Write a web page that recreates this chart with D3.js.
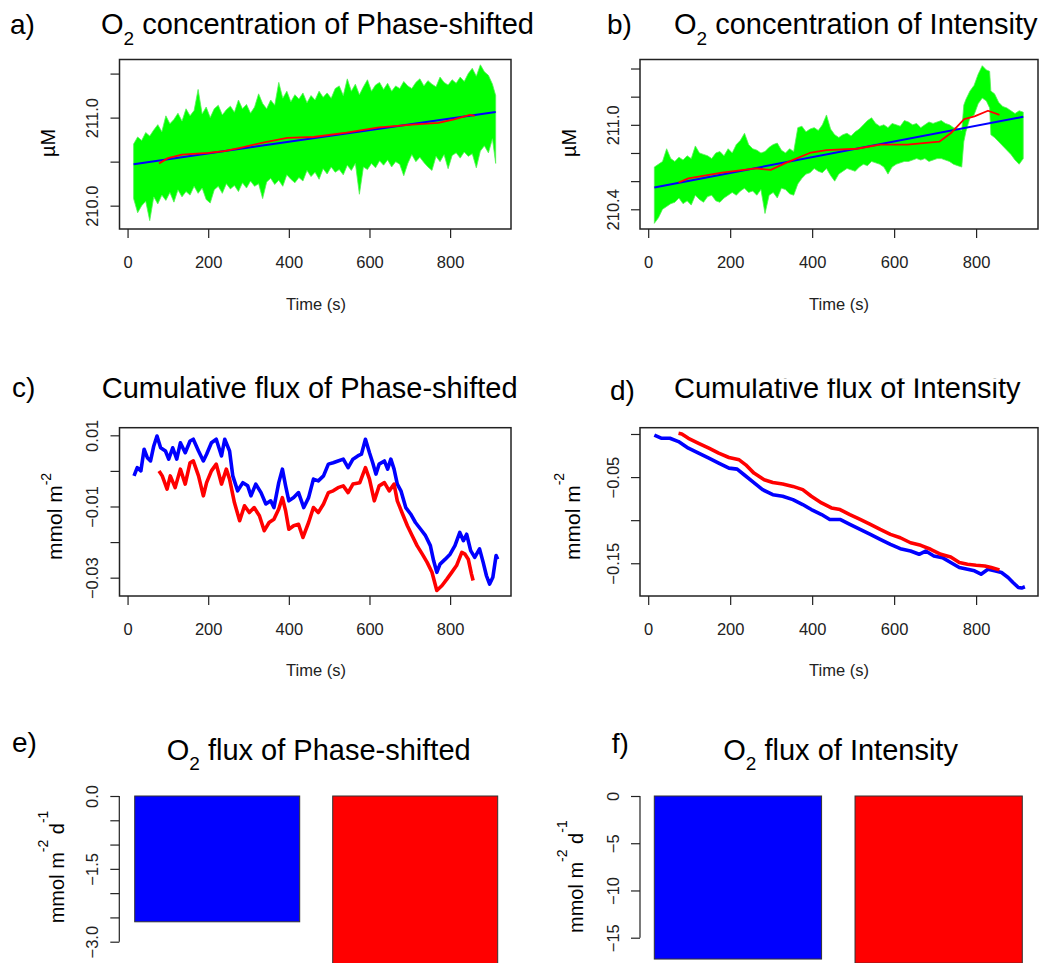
<!DOCTYPE html>
<html>
<head>
<meta charset="utf-8">
<script src="https://cdnjs.cloudflare.com/ajax/libs/d3/7.8.5/d3.min.js"></script>
<style>
  body { margin: 0; background: #fff; }
  text { white-space: pre; }
</style>
</head>
<body>
<div id="chart-area"></div>
<script>
// ---- data ----
var timeTicks = [0, 200, 400, 600, 800];

// a) O2 concentration, phase-shifted: [time, upper, lower] of the raw (green) trace
var aBand = [
  [15,210.70,210.08],[25,210.78,209.92],[35,210.74,210.00],[45,210.83,210.05],[55,210.79,209.83],
  [65,210.86,210.10],[75,210.92,210.02],[85,210.84,210.12],[95,211.02,210.06],[105,210.93,210.15],
  [115,210.98,210.04],[125,211.05,210.18],[135,210.96,210.10],[145,211.10,210.16],[155,211.02,210.12],
  [165,211.08,210.22],[175,211.32,210.14],[185,211.04,210.20],[195,211.12,210.07],[205,211.00,210.03],
  [215,211.10,210.18],[225,211.14,210.22],[235,211.03,210.14],[245,211.09,210.25],[255,211.13,210.19],
  [265,211.06,210.23],[275,211.20,210.16],[285,211.10,210.26],[295,211.15,210.20],[305,211.05,210.28],
  [315,211.12,210.22],[325,211.27,210.25],[335,211.16,210.08],[345,211.10,210.27],[355,211.20,210.31],
  [365,211.14,210.24],[375,211.40,210.29],[385,211.22,210.22],[395,211.30,210.35],[405,211.18,210.30],
  [415,211.26,210.26],[425,211.21,210.32],[435,211.28,210.28],[445,211.17,210.40],[455,211.25,210.33],
  [465,211.20,210.38],[475,211.30,210.30],[485,211.23,210.42],[495,211.28,210.36],[505,211.22,210.44],
  [515,211.33,210.38],[525,211.36,210.41],[535,211.25,210.35],[545,211.44,210.46],[555,211.30,210.40],
  [565,211.38,210.48],[575,211.26,210.13],[585,211.35,210.44],[595,211.43,210.41],[605,211.30,210.48],
  [615,211.37,210.43],[625,211.40,210.51],[635,211.32,210.46],[645,211.39,210.52],[655,211.30,210.44],
  [665,211.36,210.50],[675,211.33,210.47],[685,211.41,210.34],[695,211.36,210.48],[705,211.33,210.58],
  [715,211.40,210.50],[725,211.44,210.55],[735,211.36,210.49],[745,211.42,210.44],[755,211.38,210.40],
  [765,211.35,210.56],[775,211.46,210.50],[785,211.40,210.58],[795,211.37,210.42],[805,211.43,210.57],
  [815,211.39,210.60],[825,211.46,210.54],[835,211.41,210.61],[845,211.50,210.56],[855,211.56,210.59],
  [865,211.47,210.43],[875,211.60,210.62],[885,211.52,210.68],[895,211.48,210.60],[905,211.38,210.76],
  [913,211.25,210.48]
];
var aSmooth = [[78,210.48],[100,210.54],[135,210.58],[200,210.60],[240,210.62],[282,210.66],[339,210.72],
  [396,210.77],[461,210.78],[543,210.83],[624,210.89],[706,210.92],[771,210.94],[810,210.98],[849,211.03],[861,211.02]];
var aFit = [[15,210.47],[913,211.065]];
var aTicks = [210.0, 210.5, 211.0, 211.5];
var aLabels = [210.0, 211.0];

// b) O2 concentration, intensity
var bBand = [
  [15,210.70,210.30],[25,210.72,210.34],[35,210.74,210.40],[45,210.83,210.42],[55,210.76,210.44],
  [65,210.74,210.45],[75,210.77,210.48],[85,210.75,210.44],[95,210.78,210.46],[105,210.76,210.43],
  [115,210.85,210.50],[125,210.80,210.47],[135,210.79,210.45],[145,210.78,210.49],[155,210.76,210.50],
  [165,210.80,210.46],[175,210.81,210.45],[185,210.78,210.48],[195,210.83,210.50],[205,210.80,210.52],
  [215,210.86,210.50],[225,210.89,210.53],[235,210.94,210.55],[245,210.86,210.52],[255,210.83,210.53],
  [265,210.82,210.50],[275,210.80,210.54],[285,210.81,210.37],[295,210.84,210.50],[305,210.86,210.52],
  [315,210.87,210.48],[325,210.82,210.55],[335,210.80,210.54],[345,210.83,210.51],[355,210.81,210.50],
  [365,210.98,210.58],[375,210.99,210.62],[385,210.95,210.65],[395,210.97,210.66],[405,210.98,210.69],
  [415,210.96,210.67],[425,211.00,210.66],[435,211.07,210.69],[445,210.97,210.64],[455,210.93,210.60],
  [465,210.91,210.65],[475,210.93,210.67],[485,210.94,210.69],[495,210.92,210.68],[505,210.95,210.67],
  [515,210.97,210.70],[525,211.00,210.72],[535,211.03,210.71],[545,211.05,210.74],[555,211.01,210.73],
  [565,210.99,210.72],[575,211.00,210.70],[585,210.98,210.65],[595,211.01,210.70],[605,211.00,210.72],
  [615,210.99,210.73],[625,211.03,210.74],[635,211.02,210.74],[645,211.00,210.75],[655,211.01,210.76],
  [665,210.98,210.75],[675,211.00,210.76],[685,211.02,210.74],[695,211.01,210.75],[705,211.02,210.76],
  [715,211.03,210.76],[725,211.01,210.75],[735,211.00,210.74],[745,210.98,210.72],[755,210.97,210.71],
  [765,210.96,210.70],[770,211.14,210.88],[775,211.18,210.95],[785,211.24,211.05],[795,211.28,211.07],
  [805,211.36,211.15],[815,211.42,211.19],[825,211.39,211.17],[833,211.38,211.12],[836,211.24,210.93],
  [845,211.22,210.91],[855,211.16,210.88],[865,211.13,210.85],[875,211.12,210.82],[885,211.10,210.79],
  [895,211.08,210.75],[905,211.10,210.72],[915,211.09,210.76]
];
var bSmooth = [[74,210.59],[98,210.62],[180,210.66],[263,210.69],[299,210.68],[336,210.73],[394,210.80],
  [435,210.82],[509,210.83],[566,210.86],[632,210.86],[710,210.88],[738,210.94],[771,211.04],[796,211.06],
  [829,211.10],[857,211.07]];
var bFit = [[15,210.555],[915,211.057]];
var bTicks = [210.4, 210.6, 210.8, 211.0, 211.2, 211.4];
var bLabels = [210.4, 211.0];

// c) cumulative flux, phase-shifted (two estimates)
var cBlue = [[16,-0.0014],[24,0.0009],[33,0.0],[41,0.0061],[49,0.0037],[57,0.0028],[65,0.0070],[73,0.0098],
  [82,0.0065],[94,0.0056],[102,0.0033],[112,0.0065],[122,0.0033],[131,0.0079],[143,0.0051],[155,0.0084],
  [163,0.0089],[176,0.0056],[188,0.0028],[196,0.0047],[208,0.0079],[220,0.0089],[233,0.0042],[241,0.0089],
  [253,0.0056],[261,-0.0014],[273,-0.0056],[286,-0.0033],[298,-0.0042],[306,-0.0070],[318,-0.0037],
  [331,-0.0061],[343,-0.0093],[355,-0.0084],[363,-0.0103],[375,-0.0033],[384,0.0005],[392,-0.0042],
  [400,-0.0084],[412,-0.0075],[424,-0.0061],[437,-0.0103],[449,-0.0075],[461,-0.0023],[473,-0.0028],
  [486,-0.0014],[498,0.0019],[510,0.0023],[522,0.0028],[535,0.0033],[547,0.0009],[559,0.0033],[571,0.0042],
  [580,0.0047],[590,0.0089],[600,0.0051],[608,0.0023],[616,-0.0009],[624,0.0019],[637,0.0028],[645,0.0005],
  [653,0.0033],[661,0.0005],[669,-0.0037],[678,-0.0056],[690,-0.0103],[702,-0.0121],[714,-0.0145],
  [727,-0.0164],[739,-0.0182],[751,-0.0210],[759,-0.0252],[767,-0.0285],[775,-0.0262],[788,-0.0248],
  [800,-0.0234],[812,-0.0210],[824,-0.0173],[833,-0.0196],[841,-0.0178],[851,-0.0224],[861,-0.0243],
  [873,-0.0219],[882,-0.0257],[890,-0.0294],[898,-0.0318],[906,-0.0299],[914,-0.0238],[918,-0.0248]];
var cRed = [[78,0.0],[86,-0.0014],[98,-0.0051],[106,-0.0014],[118,-0.0047],[131,0.0005],[143,-0.0037],
  [155,0.0023],[163,0.0028],[176,-0.0014],[188,-0.0070],[196,-0.0033],[208,0.0],[220,0.0019],[233,-0.0037],
  [245,0.0005],[253,-0.0023],[265,-0.0089],[278,-0.0140],[290,-0.0098],[302,-0.0117],[314,-0.0103],
  [327,-0.0126],[339,-0.0168],[351,-0.0145],[363,-0.0136],[375,-0.0107],[384,-0.0075],[392,-0.0112],
  [400,-0.0164],[412,-0.0154],[424,-0.0150],[435,-0.0187],[449,-0.0145],[461,-0.0103],[473,-0.0117],
  [486,-0.0093],[498,-0.0061],[510,-0.0056],[522,-0.0047],[535,-0.0042],[547,-0.0061],[559,-0.0037],
  [576,-0.0033],[590,0.0009],[600,-0.0023],[612,-0.0084],[624,-0.0042],[637,-0.0033],[649,-0.0056],
  [661,-0.0037],[669,-0.0084],[682,-0.0121],[694,-0.0154],[706,-0.0182],[718,-0.0210],[731,-0.0234],
  [743,-0.0257],[755,-0.0285],[767,-0.0336],[780,-0.0322],[792,-0.0304],[804,-0.0285],[816,-0.0266],
  [829,-0.0229],[837,-0.0234],[845,-0.0248],[853,-0.0290],[857,-0.0308]];
var cTicks = [0.01, 0.0, -0.01, -0.02, -0.03];
var cLabels = [0.01, -0.01, -0.03];

// d) cumulative flux, intensity
var dBlue = [[15,-0.0012],[33,-0.005],[53,-0.005],[74,-0.0088],[98,-0.0165],[123,-0.0223],[148,-0.0281],
  [172,-0.0338],[197,-0.0396],[217,-0.0408],[234,-0.0473],[254,-0.055],[279,-0.0646],[304,-0.0704],
  [328,-0.0723],[353,-0.0762],[377,-0.0819],[398,-0.0877],[423,-0.0935],[443,-0.0992],[468,-0.0992],
  [492,-0.105],[517,-0.1108],[542,-0.1165],[566,-0.1223],[591,-0.1281],[615,-0.1331],[640,-0.1358],
  [661,-0.1396],[677,-0.1358],[697,-0.1415],[718,-0.1435],[738,-0.1492],[759,-0.155],[779,-0.1569],
  [796,-0.1588],[812,-0.1627],[829,-0.1569],[845,-0.1588],[862,-0.1608],[878,-0.1665],[890,-0.1723],
  [903,-0.1781],[911,-0.1788],[919,-0.1773]];
var dRed = [[74,0.0008],[82,0.0],[98,-0.005],[123,-0.0108],[148,-0.0165],[172,-0.0223],[197,-0.0273],
  [222,-0.03],[238,-0.0358],[258,-0.0454],[283,-0.0531],[304,-0.0562],[328,-0.0581],[353,-0.0608],
  [377,-0.0646],[398,-0.0723],[423,-0.08],[447,-0.0858],[468,-0.0877],[492,-0.0935],[517,-0.0992],
  [542,-0.105],[566,-0.1108],[591,-0.1165],[615,-0.1204],[640,-0.1262],[665,-0.1292],[689,-0.1338],
  [714,-0.1396],[738,-0.1427],[759,-0.1492],[779,-0.1512],[800,-0.1523],[821,-0.1531],[837,-0.155],
  [857,-0.1577]];
var dTicks = [0.0, -0.05, -0.10, -0.15];
var dLabels = [-0.05, -0.15];

// e) / f) daily O2 flux, two estimates each
var barGroups = ["blue", "red"];
var eFlux = [-2.59, -3.6];
var fFlux = [-17.26, -17.7];
var eTicks = [0.0, -0.5, -1.0, -1.5, -2.0, -2.5, -3.0];
var eLabels = [0.0, -1.5, -3.0];
var fTicks = [0, -5, -10, -15];
var fLabels = [0, -5, -10, -15];

// ---- drawing ----
var FONT = "'Liberation Sans', Arial, Helvetica, sans-serif";
var INK = "#222";
var timeDomain = [-20, 951];

var svg = d3.select("#chart-area")
    .append("svg")
    .attr("width", 1050)
    .attr("height", 963)
    .attr("font-family", FONT);

function minus(s) { return s.replace("-", "\u2212"); }

function styleAxis(g) {
    // d3 sets its own font on the axis group, so override after the call
    g.attr("font-family", FONT).attr("font-size", 16.5).attr("fill", null);
    g.selectAll(".tick line").attr("stroke-width", 1.2);
}

function yAxis(scale, ticks, labels, fmt, xpos, keepLine) {
    var ax = d3.axisLeft(scale)
        .tickValues(ticks)
        .tickSize(9)
        .tickSizeOuter(0)
        .tickFormat(function(d) {
            return labels.some(function(l) { return Math.abs(l - d) < 1e-9; }) ? minus(fmt(d)) : "";
        });
    var g = svg.append("g")
        .attr("transform", "translate(" + xpos + ",0)")
        .attr("color", INK)
        .call(ax);
    styleAxis(g);
    if (!keepLine) g.select(".domain").remove();
    else g.select(".domain").attr("stroke-width", 1.2)
        .attr("d", "M0," + scale(ticks[0]) + "V" + scale(ticks[ticks.length - 1]));
    g.selectAll(".tick text")
        .attr("transform", "rotate(-90)")
        .attr("x", 0).attr("y", -21.5).attr("dy", 0)
        .attr("text-anchor", "middle")
        .attr("fill", INK);
    return g;
}

function timeAxis(x, ybottom) {
    var g = svg.append("g")
        .attr("transform", "translate(0," + ybottom + ")")
        .attr("color", INK)
        .call(d3.axisBottom(x).tickValues(timeTicks).tickSize(9).tickSizeOuter(0));
    styleAxis(g);
    g.select(".domain").remove();
    g.selectAll(".tick text").attr("y", 39).attr("dy", 0).attr("fill", INK);
}

function title(p) {
    svg.append("text").attr("x", p.lx).attr("y", p.ly)
        .attr("font-size", 28).attr("fill", "#000").text(p.letter);
    var t = svg.append("text").attr("x", p.tx).attr("y", p.ty)
        .attr("font-size", 29).attr("fill", "#000");
    if (p.clipTop) {
        svg.append("clipPath").attr("id", "tclip-" + p.id).append("rect")
            .attr("x", 0).attr("y", p.clipTop).attr("width", 1050).attr("height", 100);
        t.attr("clip-path", "url(#tclip-" + p.id + ")");
    }
    if (p.sub) {
        t.append("tspan").text("O");
        t.append("tspan").attr("dy", p.subDy).attr("font-size", 19).text("2");
        t.append("tspan").attr("dy", -p.subDy).text(" " + p.text);
    } else {
        t.text(p.text);
    }
}

function yTitle(x, y, size, parts) {
    // parts: [text, raised?, shift]
    var t = svg.append("text")
        .attr("transform", "translate(" + x + "," + y + ") rotate(-90)")
        .attr("font-size", size).attr("fill", "#000");
    var up = 0;
    parts.forEach(function(p) {
        var s = t.append("tspan").text(p[0]);
        if (p[1]) {
            s.attr("font-size", 14);
            if (!up) { s.attr("dy", -p[2]); up = p[2]; }
        } else if (up) {
            s.attr("dy", up); up = 0;
        }
    });
}

function xTitle(cx, y) {
    svg.append("text").attr("x", cx).attr("y", y)
        .attr("text-anchor", "middle").attr("font-size", 16.5).attr("fill", INK)
        .text("Time (s)");
}

function concPanel(p) {
    var x = d3.scaleLinear().domain(timeDomain).range([p.x0, p.x1]);
    var y = d3.scaleLinear().domain(p.yDomain).range([p.y1, p.y0]);
    svg.append("clipPath").attr("id", "clip-" + p.id).append("rect")
        .attr("x", p.x0).attr("y", p.y0).attr("width", p.x1 - p.x0).attr("height", p.y1 - p.y0);
    var g = svg.append("g").attr("clip-path", "url(#clip-" + p.id + ")");

    g.append("path").datum(p.band)
        .attr("fill", "#00ff00").attr("stroke", "#55f055").attr("stroke-width", 0.8)
        .attr("d", d3.area().x(function(d) { return x(d[0]); })
            .y0(function(d) { return y(d[2]); })
            .y1(function(d) { return y(d[1]); }));
    var line = d3.line().x(function(d) { return x(d[0]); }).y(function(d) { return y(d[1]); });
    g.append("path").datum(p.fit).attr("fill", "none").attr("stroke", "#0000ff").attr("stroke-width", 2).attr("d", line);
    g.append("path").datum(p.smooth).attr("fill", "none").attr("stroke", "#ff0000").attr("stroke-width", 1.8)
        .attr("stroke-linejoin", "round").attr("d", line);

    svg.append("rect").attr("x", p.x0).attr("y", p.y0).attr("width", p.x1 - p.x0).attr("height", p.y1 - p.y0)
        .attr("fill", "none").attr("stroke", INK).attr("stroke-width", 1.5);
    timeAxis(x, p.y1);
    yAxis(y, p.ticks, p.labels, d3.format(".1f"), p.x0, false);
}

function fluxPanel(p) {
    var x = d3.scaleLinear().domain(timeDomain).range([p.x0, p.x1]);
    var y = d3.scaleLinear().domain(p.yDomain).range([p.y1, p.y0]);
    svg.append("clipPath").attr("id", "clip-" + p.id).append("rect")
        .attr("x", p.x0).attr("y", p.y0).attr("width", p.x1 - p.x0).attr("height", p.y1 - p.y0);
    var g = svg.append("g").attr("clip-path", "url(#clip-" + p.id + ")");
    var line = d3.line().x(function(d) { return x(d[0]); }).y(function(d) { return y(d[1]); });
    [[p.blue, "#0000ff"], [p.red, "#ff0000"]].forEach(function(s) {
        g.append("path").datum(s[0]).attr("fill", "none").attr("stroke", s[1])
            .attr("stroke-width", 3.6).attr("stroke-linejoin", "round").attr("d", line);
    });
    svg.append("rect").attr("x", p.x0).attr("y", p.y0).attr("width", p.x1 - p.x0).attr("height", p.y1 - p.y0)
        .attr("fill", "none").attr("stroke", INK).attr("stroke-width", 1.5);
    timeAxis(x, p.y1);
    yAxis(y, p.ticks, p.labels, p.fmt, p.x0, false);
}

function barPanel(p) {
    var x = d3.scaleBand().domain(barGroups).range([p.bx0, p.bx1]).paddingInner(0.2 / 1.2).paddingOuter(0);
    var y = d3.scaleLinear().domain(p.yDomain).range(p.yRange);
    svg.selectAll(null).data(p.values).enter().append("rect")
        .attr("x", function(d, i) { return x(barGroups[i]); })
        .attr("width", x.bandwidth())
        .attr("y", y(0))
        .attr("height", function(d) { return y(d) - y(0); })
        .attr("fill", function(d, i) { return barGroups[i] === "blue" ? "#0000ff" : "#ff0000"; })
        .attr("stroke", "#333").attr("stroke-width", 1);
    yAxis(y, p.ticks, p.labels, p.fmt, p.axisX, true);
}

// row 1
concPanel({ id: "a", x0: 119.5, x1: 511, y0: 59.5, y1: 229, yDomain: [209.735, 211.66],
    band: aBand, smooth: aSmooth, fit: aFit, ticks: aTicks, labels: aLabels });
concPanel({ id: "b", x0: 640, x1: 1038, y0: 59.5, y1: 229, yDomain: [210.26, 211.464],
    band: bBand, smooth: bSmooth, fit: bFit, ticks: bTicks, labels: bLabels });
title({ id: "a", letter: "a)", lx: 10, ly: 34, tx: 101, ty: 34, sub: true, subDy: 11, text: "concentration of Phase-shifted" });
title({ id: "b", letter: "b)", lx: 607, ly: 34, tx: 674, ty: 34, sub: true, subDy: 11, text: "concentration of Intensity" });
yTitle(55, 157, 20, [["\u00b5M"]]);
yTitle(576, 157, 20, [["\u00b5M"]]);
xTitle(316, 310);
xTitle(839, 310);

// row 2
fluxPanel({ id: "c", x0: 119.5, x1: 511, y0: 427.7, y1: 596, yDomain: [-0.03515, 0.01214],
    blue: cBlue, red: cRed, ticks: cTicks, labels: cLabels, fmt: d3.format(".2f") });
fluxPanel({ id: "d", x0: 640, x1: 1038, y0: 427.7, y1: 596, yDomain: [-0.188, 0.0073],
    blue: dBlue, red: dRed, ticks: dTicks, labels: dLabels, fmt: d3.format(".2f") });
title({ id: "c", letter: "c)", lx: 12, ly: 397, tx: 101.7, ty: 398, text: "Cumulative flux of Phase-shifted" });
title({ id: "d", letter: "d)", lx: 610, ly: 400, tx: 674, ty: 398, text: "Cumulative flux of Intensity", clipTop: 378.5 });
yTitle(61.7, 560, 21, [["mmol m"], ["-2", true, 11]]);
yTitle(580, 560, 21, [["mmol m"], ["-2", true, 16]]);
xTitle(316, 676);
xTitle(839, 676);

// row 3
barPanel({ bx0: 134.7, bx1: 497.7, axisX: 119.3, yDomain: [0, -3], yRange: [796, 941.7],
    values: eFlux, ticks: eTicks, labels: eLabels, fmt: d3.format(".1f") });
barPanel({ bx0: 654.3, bx1: 1022.3, axisX: 640, yDomain: [0, -15], yRange: [796, 937.7],
    values: fFlux, ticks: fTicks, labels: fLabels, fmt: d3.format("d") });
title({ id: "e", letter: "e)", lx: 12, ly: 752, tx: 166.7, ty: 760, sub: true, subDy: 10, text: "flux of Phase-shifted" });
title({ id: "f", letter: "f)", lx: 611.7, ly: 753, tx: 723.3, ty: 760, sub: true, subDy: 10, text: "flux of Intensity" });
yTitle(64, 923.3, 20, [["mmol m"], ["-2", true, 16], [" d"], ["-1", true, 16]]);
yTitle(583, 933, 20, [["mmol m"], ["-2", true, 16], [" d"], ["-1", true, 16]]);
</script>
</body>
</html>
